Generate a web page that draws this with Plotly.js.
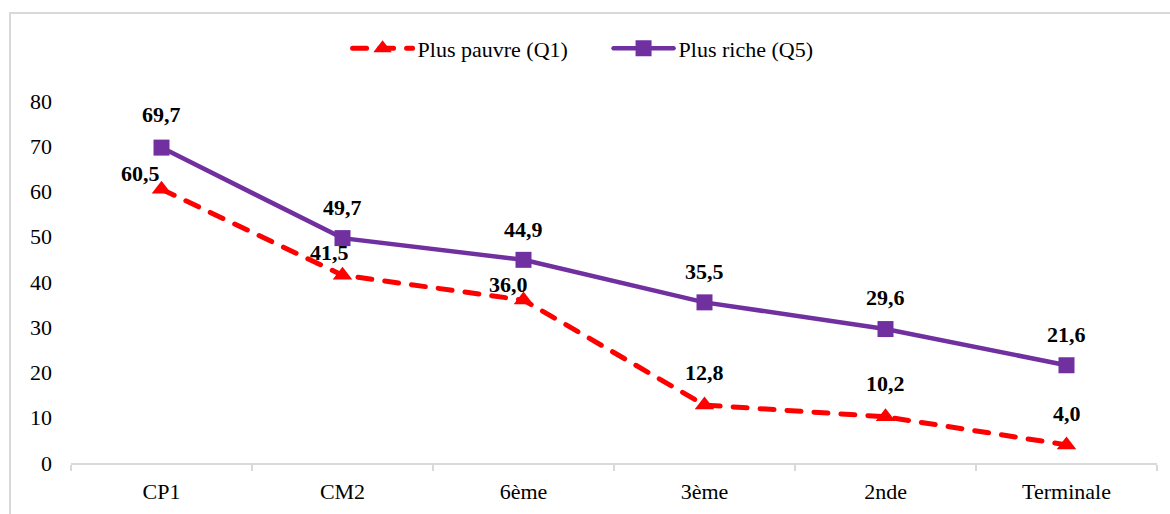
<!DOCTYPE html>
<html>
<head>
<meta charset="utf-8">
<script src="https://cdn.plot.ly/plotly-3.0.1.min.js"></script>
<style>
  html, body { margin: 0; padding: 0; background: #ffffff; }
  #wrap { position: relative; width: 1170px; height: 514px; overflow: hidden; }
  #chart { width: 1170px; height: 514px; }
  #frame { position: absolute; left: 9px; top: 12px; width: 1200px; height: 600px;
           border: 2px solid #d9d9d9; pointer-events: none; }
  .scatterlayer .js-line { stroke-linecap: round; }
  .legendlines path { stroke-linecap: round; }
</style>
</head>
<body>
<div id="wrap">
  <div id="chart"></div>
  <div id="frame"></div>
</div>
<script>
// School level
const categories = ['CP1', 'CM2', '6ème', '3ème', '2nde', 'Terminale'];
// Share per wealth quintile (%)
const poorestQ1 = [60.5, 41.5, 36.0, 12.8, 10.2, 4.0];
const richestQ5 = [69.7, 49.7, 44.9, 35.5, 29.6, 21.6];
const seriesNames = ['Plus pauvre (Q1)', 'Plus riche (Q5)'];
const yTicks = [0, 10, 20, 30, 40, 50, 60, 70, 80];

const FONT = '"Liberation Serif", "Times New Roman", Times, serif';
const RED = '#ff0000';
const PURPLE = '#7030a0';

const fmt = v => v.toFixed(1).replace('.', ',');

// Label offsets in pixels (label pulled aside where it would collide)
const q1Shift = [[-21, 16], [-13, 23], [-15, 16], [0, 33], [0, 33], [0, 31]];
const q5Shift = [[0, 33], [0, 31], [0, 30], [0, 31], [0, 32], [0, 31]];

const traces = [
  {
    x: categories, y: poorestQ1, name: seriesNames[0], type: 'scatter', mode: 'lines+markers',
    line: { color: RED, width: 5, dash: '14px,13px' },
    marker: { symbol: 'triangle-up', size: 17, color: RED }
  },
  {
    x: categories, y: richestQ5, name: seriesNames[1], type: 'scatter', mode: 'lines+markers',
    line: { color: PURPLE, width: 4.5 },
    marker: { symbol: 'square', size: 16, color: PURPLE }
  }
];

const annotations = [];
function addLabels(vals, shifts) {
  vals.forEach((v, i) => {
    annotations.push({
      x: categories[i], y: v, xref: 'x', yref: 'y', text: '<b>' + fmt(v) + '</b>',
      showarrow: false, xanchor: 'center', yanchor: 'middle',
      xshift: shifts[i][0], yshift: shifts[i][1],
      font: { family: FONT, size: 22, color: '#000000' }
    });
  });
}
addLabels(poorestQ1, q1Shift);
addLabels(richestQ5, q5Shift);

const layout = {
  width: 1170, height: 514,
  margin: { l: 71, r: 13, t: 101, b: 50.5 },
  paper_bgcolor: '#ffffff', plot_bgcolor: '#ffffff',
  font: { family: FONT, size: 22, color: '#000000' },
  showlegend: true,
  legend: {
    orientation: 'h', x: 0.495, xanchor: 'center', y: 1.145, yanchor: 'middle',
    itemwidth: 60, entrywidth: 186, entrywidthmode: 'pixels',
    font: { family: FONT, size: 22, color: '#000000' }, traceorder: 'normal'
  },
  xaxis: {
    type: 'category', range: [-0.5, 5.5], tickson: 'boundaries',
    ticks: 'outside', ticklen: 6, tickwidth: 2, tickcolor: '#d9d9d9',
    showline: true, linecolor: '#d9d9d9', linewidth: 2,
    showgrid: false, zeroline: false, ticklabelstandoff: 8,
    tickfont: { family: FONT, size: 22, color: '#000000' }
  },
  yaxis: {
    range: [0, 80], tickvals: yTicks, ticktext: yTicks.map(String),
    showline: false, showgrid: false, zeroline: false, ticks: '',
    ticklabelstandoff: 18,
    tickfont: { family: FONT, size: 22, color: '#000000' }
  },
  annotations: annotations
};

Plotly.newPlot('chart', traces, layout, { displayModeBar: false, staticPlot: true });
</script>
</body>
</html>
